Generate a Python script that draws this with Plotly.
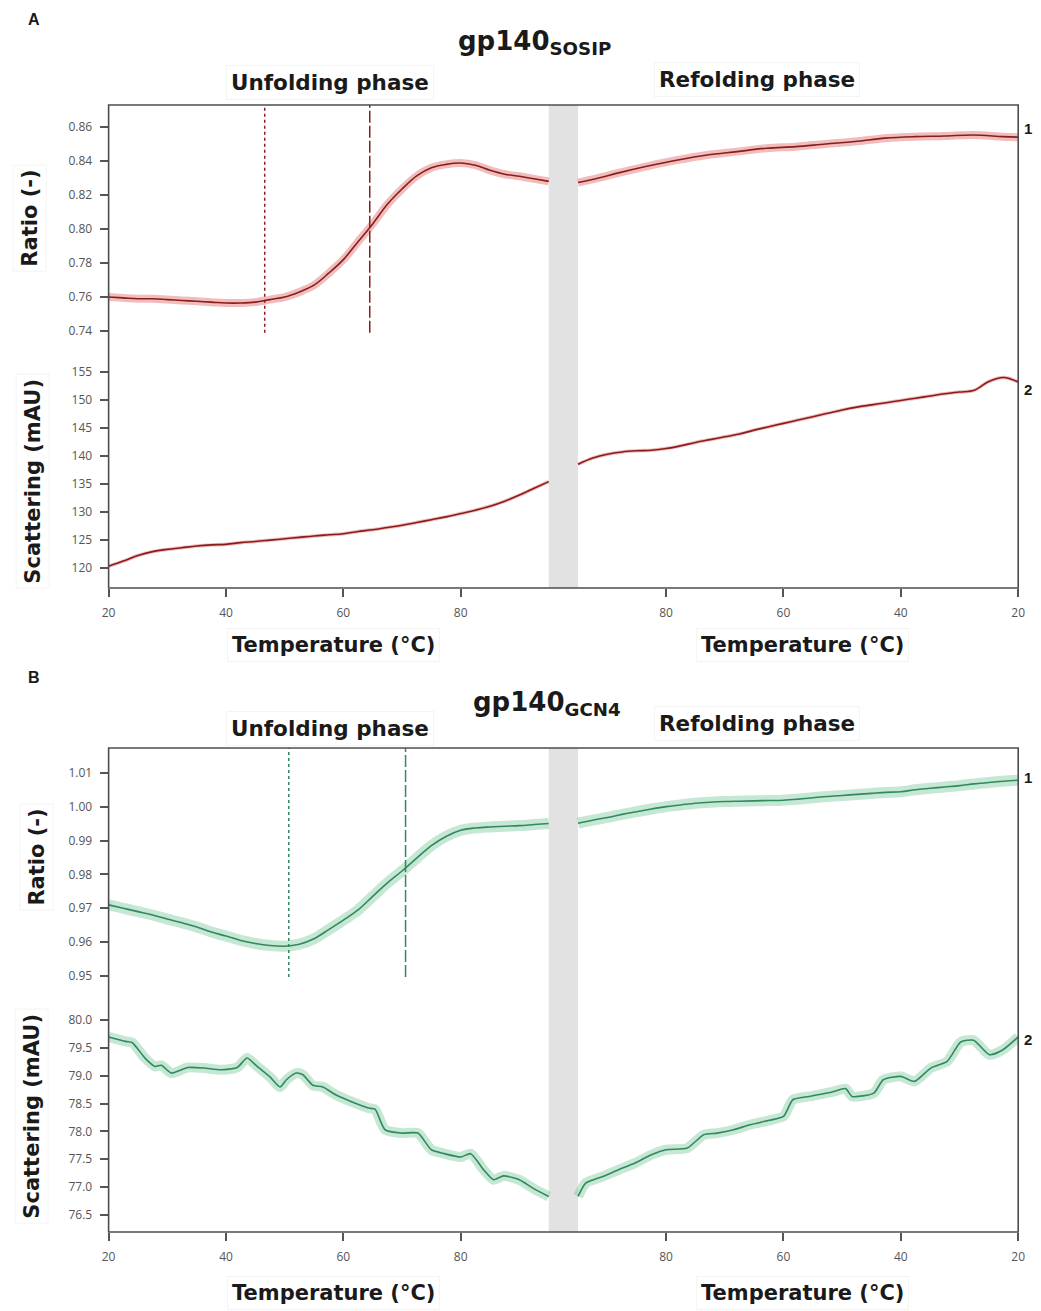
import plotly.graph_objects as go

W, H = 1041, 1311

# ---------------- data ----------------
# Panel A: gp140 SOSIP
A_unf_T = [20, 22.5, 25, 27.5, 30, 32.5, 35, 37.5, 40, 42.5, 45, 47.5, 50, 52.5, 55, 57.5,
           60, 62.5, 65, 67.5, 70, 72.5, 75, 77.5, 80, 82.5, 85, 87.5, 90, 92.5, 95]
A_unf_ratio = [0.760, 0.7595, 0.759, 0.759, 0.7585, 0.758, 0.7575, 0.757, 0.7565, 0.7565, 0.757,
               0.7585, 0.760, 0.763, 0.767, 0.774, 0.782, 0.7925, 0.803, 0.8145, 0.8235, 0.8312,
               0.836, 0.838, 0.8388, 0.8375, 0.8345, 0.8322, 0.831, 0.8295, 0.828]
A_ref_T_ratio = [95, 91.5, 88.1, 83.1, 78, 73, 67.9, 62.9, 57.9, 52.8, 47.8, 42.7, 37.7, 32.6, 27.6, 22.6, 20]
A_ref_ratio = [0.8273, 0.830, 0.833, 0.837, 0.8406, 0.8435, 0.8455, 0.8475, 0.8484, 0.850, 0.8514,
               0.8534, 0.8543, 0.8547, 0.8553, 0.8543, 0.854]
A_unf_scat = [120.3, 121.2, 122.2, 122.9, 123.3, 123.6, 123.9, 124.1, 124.2, 124.5, 124.7, 124.95,
              125.2, 125.45, 125.7, 125.9, 126.1, 126.5, 126.8, 127.2, 127.6, 128.1, 128.6, 129.1,
              129.7, 130.3, 131.0, 131.9, 133.0, 134.2, 135.4]
A_ref_T = [95, 92.5, 90, 87.5, 85, 82.5, 80, 77.5, 75, 72.5, 70, 67.5, 65, 62.5, 60, 57.5, 55,
           52.5, 50, 47.5, 45, 42.5, 40, 37.5, 35, 32.5, 30, 27.5, 25, 22.5, 20]
A_ref_scat = [138.5, 139.6, 140.3, 140.7, 140.9, 141.0, 141.3, 141.8, 142.4, 142.9, 143.4, 143.9,
              144.6, 145.2, 145.8, 146.4, 147.0, 147.6, 148.2, 148.7, 149.1, 149.5, 149.9, 150.3,
              150.7, 151.1, 151.4, 151.7, 153.3, 154.0, 153.2]
A_onset_T = 46.6
A_mid_T = 64.5

# Panel B: gp140 GCN4
B_unf_T = A_unf_T
B_unf_ratio = [0.9710, 0.9700, 0.9690, 0.9680, 0.9668, 0.9657, 0.9645, 0.9630, 0.9618, 0.9605,
               0.9596, 0.9590, 0.9588, 0.9594, 0.9610, 0.9637, 0.9665, 0.9695, 0.9735, 0.9775,
               0.9810, 0.9848, 0.9885, 0.9912, 0.9930, 0.9937, 0.9940, 0.9942, 0.9944, 0.9947, 0.9950]
B_ref_T = A_ref_T
B_ref_ratio = [0.9951, 0.9960, 0.9968, 0.9977, 0.9985, 0.9993, 1.0000, 1.0005, 1.0010, 1.0013,
               1.0015, 1.0016, 1.0017, 1.0018, 1.0019, 1.0022, 1.0026, 1.0030, 1.0033, 1.0036,
               1.0039, 1.0042, 1.0044, 1.0050, 1.0054, 1.0058, 1.0062, 1.0067, 1.0071, 1.0075, 1.0078]
B_unf_T_scat = [20, 22.9, 24, 26.2, 27.9, 29, 30.7, 33.5, 36.3, 39.1, 41.9, 43.6, 45.3, 47.5, 49.2,
                50.3, 52, 53.1, 54.8, 56.5, 58.7, 61.5, 64.3, 65.4, 67.1, 69.9, 72.7, 75, 77.2, 80,
                81.7, 83.9, 85.6, 87.3, 90, 92.3, 95]
B_unf_scat = [79.70, 79.62, 79.60, 79.32, 79.17, 79.19, 79.05, 79.15, 79.14, 79.11, 79.15, 79.32,
              79.17, 78.98, 78.80, 78.93, 79.05, 79.02, 78.83, 78.80, 78.66, 78.53, 78.42, 78.40,
              78.03, 77.97, 77.97, 77.67, 77.60, 77.54, 77.60, 77.31, 77.13, 77.20, 77.13, 76.98, 76.83]
B_ref_T_scat = [95, 93.7, 91, 88.1, 85.3, 82.5, 80, 76.4, 73.6, 71.3, 68.5, 65.7, 62.4, 60, 58.4,
                55.6, 51.7, 49.4, 48.3, 44.6, 43, 40, 37.7, 34.9, 32.1, 29.8, 27.6, 24.9, 22.6, 20]
B_ref_scat = [76.83, 77.07, 77.18, 77.31, 77.43, 77.58, 77.67, 77.70, 77.94, 77.97, 78.03, 78.12,
              78.20, 78.27, 78.57, 78.63, 78.71, 78.77, 78.63, 78.69, 78.93, 78.99, 78.90, 79.14,
              79.26, 79.61, 79.64, 79.38, 79.47, 79.70]
B_onset_T = 50.7
B_mid_T = 70.6

x_ticks_T = [20, 40, 60, 80]
A_ratio_ticks = [0.74, 0.76, 0.78, 0.80, 0.82, 0.84, 0.86]
A_scat_ticks = [120, 125, 130, 135, 140, 145, 150, 155]
B_ratio_ticks = [0.95, 0.96, 0.97, 0.98, 0.99, 1.00, 1.01]
B_scat_ticks = [76.5, 77.0, 77.5, 78.0, 78.5, 79.0, 79.5, 80.0]

# ---------------- helpers ----------------
T_MAX = 95.0
GAP = 5.0          # width of the grey hold band in axis units


def refold_x(temps):
    # refolding runs backwards (95 -> 20) after the hold band
    return [T_MAX + GAP + (T_MAX - t) for t in temps]


def py(px):
    return 1 - px / H


def pxx(px):
    return px / W


X0, X1 = 103, 1025
A_top, A_mid, A_bot = 105, 345, 588
B_top, B_mid, B_bot = 748, 995, 1232

RED_LINE = "#8a1c1c"
RED_BAND = "rgba(215,80,80,0.38)"
GRN_LINE = "#2f8a5e"
GRN_BAND = "rgba(110,195,145,0.40)"

fig = go.Figure()


def add_series(xs, ys, xa, ya, line_col, band_col, band_w, smooth=1.0):
    fig.add_trace(go.Scatter(x=xs, y=ys, xaxis=xa, yaxis=ya, mode="lines",
                             line=dict(color=band_col, width=band_w, shape="spline", smoothing=smooth),
                             hoverinfo="skip", showlegend=False))
    fig.add_trace(go.Scatter(x=xs, y=ys, xaxis=xa, yaxis=ya, mode="lines",
                             line=dict(color=line_col, width=1.6, shape="spline", smoothing=smooth),
                             showlegend=False))


# Panel A
add_series(A_unf_T, A_unf_ratio, "x", "y", RED_LINE, RED_BAND, 8)
add_series(refold_x(A_ref_T_ratio), A_ref_ratio, "x", "y", RED_LINE, RED_BAND, 8)
add_series(A_unf_T, A_unf_scat, "x", "y2", RED_LINE, RED_BAND, 3.5)
add_series(refold_x(A_ref_T), A_ref_scat, "x", "y2", RED_LINE, RED_BAND, 3.5)
# Panel B
add_series(B_unf_T, B_unf_ratio, "x2", "y3", GRN_LINE, GRN_BAND, 11)
add_series(refold_x(B_ref_T), B_ref_ratio, "x2", "y3", GRN_LINE, GRN_BAND, 11)
add_series(B_unf_T_scat, B_unf_scat, "x2", "y4", GRN_LINE, GRN_BAND, 10, 0.6)
add_series(refold_x(B_ref_T_scat), B_ref_scat, "x2", "y4", GRN_LINE, GRN_BAND, 10, 0.6)

x_tickvals = x_ticks_T + refold_x(x_ticks_T)
x_ticktext = [str(t) for t in x_ticks_T] * 2
x_range = [20, T_MAX + GAP + (T_MAX - 20)]

tick_font = dict(family="Open Sans", size=12, color="#555555")
xdom = [pxx(X0), pxx(X1)]


def xaxis(anchor):
    return dict(domain=xdom, range=x_range, anchor=anchor, tickvals=x_tickvals, ticktext=x_ticktext,
                ticks="outside", ticklen=8, tickwidth=1.5, tickcolor="#555555", showgrid=False,
                zeroline=False, showline=False, tickfont=tick_font, fixedrange=True,
                ticklabelstandoff=6)


def yaxis(top, bot, rng, tickvals, fmt, anchor):
    return dict(domain=[py(bot), py(top)], range=rng, anchor=anchor, tickvals=tickvals,
                tickformat=fmt, ticks="outside", ticklen=8, tickwidth=1.5, tickcolor="#555555",
                showgrid=False, zeroline=False, showline=False, tickfont=tick_font, fixedrange=True,
                ticklabelstandoff=5)


fig.update_layout(
    width=W, height=H, margin=dict(l=0, r=0, t=0, b=0),
    paper_bgcolor="white", plot_bgcolor="white", showlegend=False,
    xaxis=xaxis("y2"),
    xaxis2=xaxis("y4"),
    yaxis=yaxis(A_top, A_mid, [0.7318, 0.8729], A_ratio_ticks, ".2f", "x"),
    yaxis2=yaxis(A_mid, A_bot, [116.4, 159.8], A_scat_ticks, "d", "x"),
    yaxis3=yaxis(B_top, B_mid, [0.9444, 1.0173], B_ratio_ticks, ".2f", "x2"),
    yaxis4=yaxis(B_mid, B_bot, [76.19, 80.455], B_scat_ticks, ".1f", "x2"),
)

shapes = []
# grey hold band
for top, bot in [(A_top, A_bot), (B_top, B_bot)]:
    xref = "x" if top == A_top else "x2"
    shapes.append(dict(type="rect", xref=xref, yref="paper", x0=T_MAX, x1=T_MAX + GAP,
                       y0=py(bot), y1=py(top), fillcolor="#e2e2e2", line=dict(width=0), layer="below"))
# transition markers
for xref, yref, T, top, bot, col, dash in [
    ("x", "y", A_onset_T, 0.8729, 0.739, RED_LINE, "dot"),
    ("x", "y", A_mid_T, 0.8729, 0.739, RED_LINE, "12px,3px"),
    ("x2", "y3", B_onset_T, 1.0173, 0.9497, GRN_LINE, "dot"),
    ("x2", "y3", B_mid_T, 1.0173, 0.9497, GRN_LINE, "12px,3px"),
]:
    shapes.append(dict(type="line", xref=xref, yref=yref, x0=T, x1=T, y0=bot, y1=top,
                       line=dict(color=col, width=1.5, dash=dash), layer="above"))
# panel frames
for top, bot in [(A_top, A_bot), (B_top, B_bot)]:
    shapes.append(dict(type="rect", xref="paper", yref="paper", x0=pxx(X0), x1=pxx(X1),
                       y0=py(bot), y1=py(top), line=dict(color="#4d4d4d", width=1.6),
                       fillcolor="rgba(0,0,0,0)", layer="above"))
fig.update_layout(shapes=shapes)

BOLD = "DejaVu Sans"
ann = []


def label(x, y, text, size, angle=0, box=False, family=BOLD):
    d = dict(x=pxx(x), y=py(y), xref="paper", yref="paper", text=text, showarrow=False,
             xanchor="center", yanchor="middle", textangle=angle,
             font=dict(family=family, size=size, color="#1a1a1a"))
    if box:
        d.update(bordercolor="#f4f4f4", borderwidth=1, borderpad=4)
    ann.append(d)


label(27, 20, "<b>A</b>", 16, family="Liberation Sans")
label(27, 677, "<b>B</b>", 16, family="Liberation Sans")
label(535, 42, "<b>gp140<sub>SOSIP</sub></b>", 26)
label(547, 703, "<b>gp140<sub>GCN4</sub></b>", 26)
for yu, yr in [(82, 79), (728, 723)]:
    label(327, yu, "<b>Unfolding phase</b>", 21.5, box=True)
    label(760, yr, "<b>Refolding phase</b>", 21.5, box=True)
for yt in [645, 1293]:
    label(331, yt, "<b>Temperature (°C)</b>", 21, box=True)
    label(806, yt, "<b>Temperature (°C)</b>", 21, box=True)
label(23, 218, "<b>Ratio (-)</b>", 21, angle=-90, box=True)
label(26, 481, "<b>Scattering (mAU)</b>", 21, angle=-90, box=True)
label(30, 857, "<b>Ratio (-)</b>", 21, angle=-90, box=True)
label(25, 1116, "<b>Scattering (mAU)</b>", 21, angle=-90, box=True)
for y, t in [(128, "1"), (389, "2"), (777, "1"), (1039, "2")]:
    label(1035, y, "<b>%s</b>" % t, 15, family="Liberation Sans")
fig.update_layout(annotations=ann)

fig.write_html("out.html", config={"displayModeBar": False},
               post_script="document.body.style.margin='0';")
